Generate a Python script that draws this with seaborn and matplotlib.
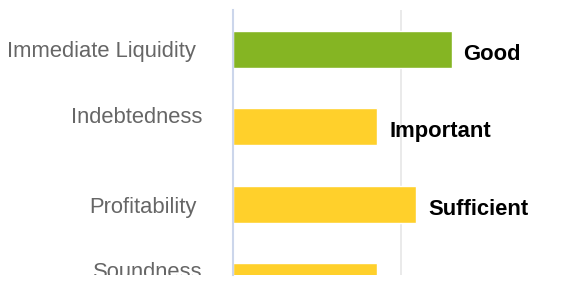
import matplotlib
matplotlib.use("Agg")
import matplotlib.pyplot as plt
from matplotlib.transforms import Bbox, TransformedBbox
import seaborn as sns
import pandas as pd

categories = ["Immediate Liquidity", "Indebtedness", "Profitability", "Soundness"]
scores = [130, 86, 109, 86]
ratings = ["Good", "Important", "Sufficient", "Important"]
bar_colors = ["#85b523", "#ffd02b", "#ffd02b", "#ffd02b"]

# label placement (pixels): right gap from axis, baseline offset from bar centre
label_gap_px = [37, 30, 36, 30]
label_base_px = [7.5, -4.0, 8.5, -3.4]

sns.set_theme(style="white")
plt.rcParams["font.family"] = ["Liberation Sans", "DejaVu Sans"]

df = pd.DataFrame({"category": categories, "score": scores})

W, H = 566, 281
fig = plt.figure(figsize=(W / 100, H / 100), dpi=100)
ax = fig.add_axes([232.7 / W, 6 / H, 1 - 232.7 / W, 265.5 / H])

sns.barplot(data=df, x="score", y="category", hue="category",
            palette=bar_colors, legend=False, width=0.477, saturation=1,
            edgecolor="white", linewidth=1, ax=ax, zorder=3)

ax.set_xlim(0, 198)
ax.set_ylim(2.913, -0.512)
ax.set_xticks([0, 100])
ax.set_xticklabels([])
ax.tick_params(axis="both", length=0)
ax.grid(axis="x", color="#e6e6e6", linewidth=1.2, zorder=0)
ax.grid(axis="y", visible=False)
ax.set_axisbelow(True)
for s in ["top", "right", "bottom"]:
    ax.spines[s].set_visible(False)
ax.spines["left"].set_color("#ccd6eb")
ax.spines["left"].set_linewidth(1.5)
ax.spines["left"].set_zorder(4)
ax.set_xlabel("")
ax.set_ylabel("")
ax.set_yticklabels([])

# visible region: everything above the cut at the bottom
clip = TransformedBbox(Bbox([[0, 6 / H], [1, 1]]), fig.transFigure)

px = 0.72  # points per pixel at dpi 100
for i, (cat, val, rat) in enumerate(zip(categories, scores, ratings)):
    t1 = ax.annotate(cat, xy=(0, i), xycoords=("axes fraction", "data"),
                     xytext=(-label_gap_px[i] * px, -label_base_px[i] * px),
                     textcoords="offset points", ha="right", va="baseline",
                     fontsize=15.8, color="#666666", annotation_clip=False)
    t2 = ax.annotate(rat, xy=(val, i), xycoords="data",
                     xytext=(12 * px, -10.5 * px), textcoords="offset points",
                     ha="left", va="baseline", fontsize=15.8, fontweight="bold",
                     color="#000000", annotation_clip=False)
    for t in (t1, t2):
        t.set_clip_on(True)
        t.set_clip_box(clip)

fig.savefig("out.png", dpi=100)
